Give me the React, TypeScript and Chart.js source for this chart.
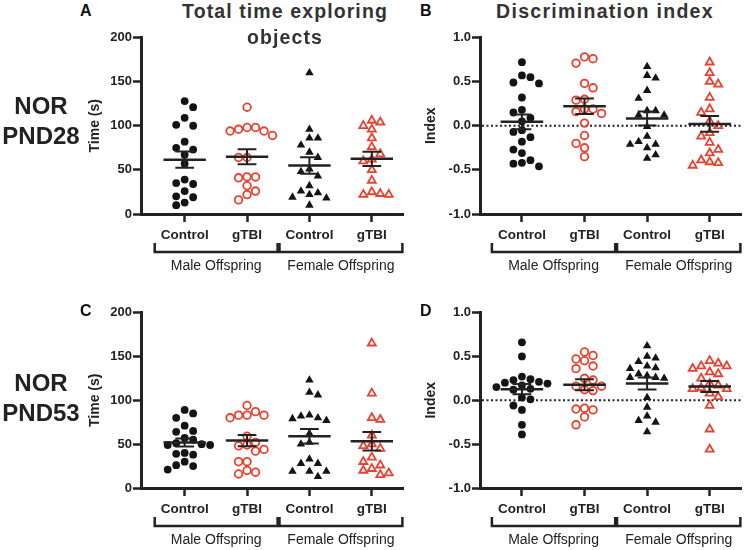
import React, { useEffect, useRef } from "react";
import { Chart, registerables } from "chart.js";
Chart.register(...registerables);

const FONT = "'Liberation Sans', Arial, Helvetica, sans-serif";
const BLACK = "#141414";
const RED = "#E8412F";
const AXIS = "#222222";

// ---- labels / ticks ----
const groupLabels = ["Control", "gTBI", "Control", "gTBI"];
const sexLabels = ["Male Offspring", "Female Offspring"];
const timeTicks = [0, 50, 100, 150, 200];
const indexTicks = [-1, -0.5, 0, 0.5, 1];

// ---- A: NOR PND28, total time exploring objects (s) ----
const timeP28MaleControl = [128, 121, 109, 100, 101, 82, 75, 73, 67, 57, 39, 34, 35, 26, 20, 19, 10, 13];
const timeP28MaleGtbi = [121, 98, 94, 94, 96, 98, 89, 64, 64, 42, 42, 41, 32, 26, 22, 16];
const timeP28FemaleControl = [160, 96, 86, 86, 78, 70, 64, 43, 48, 51, 26, 24, 32, 19, 22, 18, 10];
const timeP28FemaleGtbi = [106, 104, 100, 96, 86, 76, 68, 62, 60, 50, 38, 25, 23, 22, 22];

// ---- B: NOR PND28, discrimination index ----
const indexP28MaleControl = [0.72, 0.57, 0.55, 0.48, 0.49, 0.32, 0.15, 0.18, 0.09, 0.05, -0.07, -0.05, -0.18, -0.13, -0.31, -0.27, -0.39, -0.46, -0.42, -0.43];
const indexP28MaleGtbi = [0.78, 0.76, 0.71, 0.48, 0.43, 0.29, 0.3, 0.19, 0.19, 0.16, 0.14, 0.03, -0.11, -0.2, -0.25, -0.35];
const indexP28FemaleControl = [0.67, 0.54, 0.57, 0.4, 0.31, 0.17, 0.12, 0.12, 0.17, -0.01, -0.12, -0.21, -0.25, -0.21, -0.18, -0.37, -0.33];
const indexP28FemaleGtbi = [0.72, 0.6, 0.47, 0.5, 0.32, 0.15, 0.19, 0.0, 0.05, -0.08, -0.12, -0.19, -0.27, -0.31, -0.39, -0.42, -0.41, -0.45];

// ---- C: NOR PND53, total time exploring objects (s) ----
const timeP53MaleControl = [89, 85, 80, 71, 65, 64, 57, 55, 51, 50, 49, 49, 40, 39, 38, 30, 26, 25, 21];
const timeP53MaleGtbi = [94, 87, 83, 83, 83, 80, 59, 52, 49, 48, 44, 42, 30, 30, 20, 18, 16];
const timeP53FemaleControl = [123, 109, 106, 77, 80, 83, 79, 82, 62, 52, 50, 28, 28, 33, 19, 19, 19, 13];
const timeP53FemaleGtbi = [165, 108, 80, 78, 60, 50, 48, 45, 35, 30, 26, 22, 20, 17, 15];

// ---- D: NOR PND53, discrimination index ----
const indexP53MaleControl = [0.66, 0.5, 0.27, 0.24, 0.23, 0.21, 0.2, 0.19, 0.17, 0.15, 0.13, 0.12, 0.03, 0.01, -0.06, -0.11, -0.28, -0.39];
const indexP53MaleGtbi = [0.55, 0.51, 0.45, 0.47, 0.36, 0.39, 0.25, 0.23, 0.16, 0.16, 0.11, 0.12, -0.1, -0.09, -0.11, -0.19, -0.28];
const indexP53FemaleControl = [0.62, 0.5, 0.48, 0.44, 0.39, 0.37, 0.36, 0.3, 0.28, 0.26, 0.26, 0.25, 0.03, -0.08, -0.18, -0.25, -0.23, -0.36];
const indexP53FemaleGtbi = [0.45, 0.42, 0.39, 0.39, 0.36, 0.32, 0.3, 0.25, 0.19, 0.17, 0.14, 0.13, 0.13, 0.08, 0.04, -0.06, -0.33, -0.56];

Chart.defaults.font.family = FONT;

const PLOT_H = 177; // plot height in px (for swarm spacing)
const X_UNIT_PX = 62.5; // px per category step

// simple column beeswarm derived from the values
function swarm(values: number[], center: number, pxPerY: number) {
  const step = 8.5;
  const minDy = 8.5;
  const order = values.map((_, i) => i).sort((a, b) => values[b] - values[a]);
  const placed: { col: number; py: number }[] = [];
  const out: { x: number; y: number }[] = new Array(values.length);
  let flip = 1;
  for (const i of order) {
    const py = values[i] * pxPerY;
    let chosen = 0;
    for (let k = 0; k < 40; k++) {
      const mag = Math.ceil(k / 2);
      const col = k === 0 ? 0 : (k % 2 === 1 ? flip : -flip) * mag;
      const clash = placed.some((p) => p.col === col && Math.abs(p.py - py) < minDy);
      if (!clash) {
        chosen = col;
        break;
      }
    }
    if (chosen !== 0) flip = chosen > 0 ? -1 : 1;
    placed.push({ col: chosen, py });
    out[i] = { x: center + (chosen * step) / X_UNIT_PX, y: values[i] };
  }
  return out;
}

const markerStyles = [
  { pointStyle: "circle", backgroundColor: BLACK, borderColor: BLACK, borderWidth: 0, pointRadius: 3.9 },
  { pointStyle: "circle", backgroundColor: "rgba(255,255,255,0)", borderColor: RED, borderWidth: 1.8, pointRadius: 3.8 },
  { pointStyle: "triangle", backgroundColor: BLACK, borderColor: BLACK, borderWidth: 0, pointRadius: 4.9 },
  { pointStyle: "triangle", backgroundColor: "rgba(255,255,255,0)", borderColor: RED, borderWidth: 1.8, pointRadius: 4.6 },
];

type PanelSpec = {
  left: number;
  top: number;
  width: number;
  height: number;
  yWidth: number;
  padTop: number;
  padRight: number;
  xHeight: number;
  xMin: number;
  xMax: number;
  yMin: number;
  yMax: number;
  yTicks: number[];
  yTitle: string;
  isIndex: boolean;
  series: number[][];
};

function decor(spec: PanelSpec) {
  return {
    id: "decor",
    beforeDatasetsDraw(chart: any) {
      if (!spec.isIndex) return;
      const { ctx, chartArea } = chart;
      const y = chart.scales.y.getPixelForValue(0);
      ctx.save();
      ctx.strokeStyle = AXIS;
      ctx.lineWidth = 2;
      ctx.setLineDash([2, 2.5]);
      ctx.beginPath();
      ctx.moveTo(chartArea.left + 2, y);
      ctx.lineTo(chartArea.right, y);
      ctx.stroke();
      ctx.restore();
    },
    afterDatasetsDraw(chart: any) {
      const { ctx } = chart;
      const xs = chart.scales.x;
      const ys = chart.scales.y;
      ctx.save();
      ctx.strokeStyle = AXIS;
      ctx.lineCap = "butt";
      spec.series.forEach((vals, i) => {
        const c = i + 1;
        const n = vals.length;
        const mean = vals.reduce((a, b) => a + b, 0) / n;
        const sd = Math.sqrt(vals.reduce((a, b) => a + (b - mean) * (b - mean), 0) / (n - 1));
        const sem = sd / Math.sqrt(n);
        const ym = ys.getPixelForValue(mean);
        const yt = ys.getPixelForValue(mean + sem);
        const yb = ys.getPixelForValue(mean - sem);
        ctx.lineWidth = 2.5;
        ctx.beginPath();
        ctx.moveTo(xs.getPixelForValue(c - 0.34), ym);
        ctx.lineTo(xs.getPixelForValue(c + 0.34), ym);
        ctx.stroke();
        ctx.lineWidth = 2;
        ctx.beginPath();
        ctx.moveTo(xs.getPixelForValue(c - 0.15), yt);
        ctx.lineTo(xs.getPixelForValue(c + 0.15), yt);
        ctx.moveTo(xs.getPixelForValue(c - 0.15), yb);
        ctx.lineTo(xs.getPixelForValue(c + 0.15), yb);
        ctx.moveTo(xs.getPixelForValue(c), yt);
        ctx.lineTo(xs.getPixelForValue(c), yb);
        ctx.stroke();
      });
      ctx.restore();
    },
    afterDraw(chart: any) {
      const { ctx, chartArea } = chart;
      const xs = chart.scales.x;
      const b = chartArea.bottom;
      ctx.save();
      ctx.strokeStyle = AXIS;
      ctx.lineWidth = 2.5;
      ctx.lineJoin = "miter";
      ctx.fillStyle = AXIS;
      ctx.font = `14px ${FONT}`;
      ctx.textAlign = "center";
      ctx.textBaseline = "alphabetic";
      sexLabels.forEach((lab, s) => {
        const x1 = xs.getPixelForValue(2 * s + 0.52);
        const x2 = xs.getPixelForValue(2 * s + 2.49);
        ctx.beginPath();
        ctx.moveTo(x1, b + 29);
        ctx.lineTo(x1, b + 38);
        ctx.lineTo(x2, b + 38);
        ctx.lineTo(x2, b + 29);
        ctx.stroke();
        ctx.fillText(lab, (x1 + x2) / 2, b + 56);
      });
      ctx.restore();
    },
  };
}

function Panel({ spec }: { spec: PanelSpec }) {
  const ref = useRef<HTMLCanvasElement>(null);
  useEffect(() => {
    const pxPerY = PLOT_H / (spec.yMax - spec.yMin);
    const datasets = spec.series.map((vals, i) => ({
      label: groupLabels[i],
      data: swarm(vals, i + 1, pxPerY),
      showLine: false,
      ...markerStyles[i],
    }));
    const chart = new Chart(ref.current as HTMLCanvasElement, {
      type: "scatter",
      data: { datasets: datasets as any },
      options: {
        animation: false,
        responsive: false,
        devicePixelRatio: 1,
        layout: { padding: { top: spec.padTop, right: spec.padRight, left: 0, bottom: 0 } },
        plugins: { legend: { display: false }, tooltip: { enabled: false } },
        scales: {
          x: {
            type: "linear",
            min: spec.xMin,
            max: spec.xMax,
            afterBuildTicks: (scale: any) => {
              scale.ticks = groupLabels.map((_, i) => ({ value: i + 1 }));
            },
            afterFit: (scale: any) => {
              scale.height = spec.xHeight;
            },
            ticks: {
              autoSkip: false,
              maxRotation: 0,
              padding: 5,
              color: AXIS,
              font: { size: 13.5, weight: "bold", lineHeight: 1.2 },
              callback: (v: any) => groupLabels[Math.round(Number(v)) - 1] ?? "",
            },
            grid: { display: true, drawOnChartArea: false, drawTicks: true, tickLength: 8, tickColor: AXIS, tickWidth: 2.5 },
            border: { display: true, color: AXIS, width: 3 },
          },
          y: {
            type: "linear",
            min: spec.yMin,
            max: spec.yMax,
            afterBuildTicks: (scale: any) => {
              scale.ticks = spec.yTicks.map((v) => ({ value: v }));
            },
            afterFit: (scale: any) => {
              scale.width = spec.yWidth;
            },
            ticks: {
              padding: 1,
              color: AXIS,
              font: { size: 13, weight: "bold", lineHeight: 1 },
              callback: (v: any) => (spec.isIndex ? Number(v).toFixed(1) : String(v)),
            },
            title: {
              display: true,
              text: spec.yTitle,
              color: AXIS,
              font: { size: 14, weight: "bold", lineHeight: 1.2 },
              padding: { top: 4, bottom: 4 },
            },
            grid: { display: true, drawOnChartArea: false, drawTicks: true, tickLength: 8, tickColor: AXIS, tickWidth: 2.5 },
            border: { display: true, color: AXIS, width: 3 },
          },
        },
      },
      plugins: [decor(spec) as any],
    });
    return () => chart.destroy();
  }, []);
  return (
    <canvas
      ref={ref}
      width={spec.width}
      height={spec.height}
      style={{ position: "absolute", left: spec.left, top: spec.top, width: spec.width, height: spec.height }}
    />
  );
}

const panels: PanelSpec[] = [
  {
    left: 83, top: 30, width: 331, height: 262, yWidth: 58, padTop: 7, padRight: 11, xHeight: 78,
    xMin: 0.3, xMax: 4.5, yMin: 0, yMax: 200, yTicks: timeTicks, yTitle: "Time (s)", isIndex: false,
    series: [timeP28MaleControl, timeP28MaleGtbi, timeP28FemaleControl, timeP28FemaleGtbi],
  },
  {
    left: 419, top: 30, width: 335, height: 262, yWidth: 61, padTop: 7, padRight: 13, xHeight: 78,
    xMin: 0.33, xMax: 4.5, yMin: -1, yMax: 1, yTicks: indexTicks, yTitle: "Index", isIndex: true,
    series: [indexP28MaleControl, indexP28MaleGtbi, indexP28FemaleControl, indexP28FemaleGtbi],
  },
  {
    left: 83, top: 305, width: 331, height: 245, yWidth: 58, padTop: 7, padRight: 11, xHeight: 62,
    xMin: 0.3, xMax: 4.5, yMin: 0, yMax: 200, yTicks: timeTicks, yTitle: "Time (s)", isIndex: false,
    series: [timeP53MaleControl, timeP53MaleGtbi, timeP53FemaleControl, timeP53FemaleGtbi],
  },
  {
    left: 419, top: 305, width: 335, height: 245, yWidth: 61, padTop: 7, padRight: 13, xHeight: 62,
    xMin: 0.33, xMax: 4.5, yMin: -1, yMax: 1, yTicks: indexTicks, yTitle: "Index", isIndex: true,
    series: [indexP53MaleControl, indexP53MaleGtbi, indexP53FemaleControl, indexP53FemaleGtbi],
  },
];

function Label({ text, cx, left, top, size, color = "#222", spacing = 0 }: any) {
  const style: any = {
    position: "absolute",
    top,
    fontFamily: FONT,
    fontWeight: "bold",
    fontSize: size,
    lineHeight: 1,
    color,
    whiteSpace: "nowrap",
    letterSpacing: spacing,
  };
  if (cx !== undefined) {
    style.left = cx - 200;
    style.width = 400;
    style.textAlign = "center";
  } else {
    style.left = left;
  }
  return <div style={style}>{text}</div>;
}

export default function App() {
  return (
    <div style={{ position: "fixed", left: 0, top: 0, width: 754, height: 550, background: "#fff", overflow: "hidden" }}>
      {panels.map((p, i) => (
        <Panel key={i} spec={p} />
      ))}
      <Label text="A" left={80} top={3} size={16} color="#111" />
      <Label text="B" left={420} top={3} size={16} color="#111" />
      <Label text="C" left={80} top={303} size={16} color="#111" />
      <Label text="D" left={420} top={303} size={16} color="#111" />
      <Label text="Total time exploring" cx={285} top={1.5} size={19.5} spacing={1.1} color="#333" />
      <Label text="objects" cx={285} top={28} size={19.5} spacing={1.1} color="#333" />
      <Label text="Discrimination index" cx={605} top={1.5} size={19.5} spacing={1.3} color="#333" />
      <Label text="NOR" cx={41} top={94} size={24} color="#222" />
      <Label text="PND28" cx={41} top={124} size={24} color="#222" />
      <Label text="NOR" cx={41} top={371} size={24} color="#222" />
      <Label text="PND53" cx={41} top={401} size={24} color="#222" />
    </div>
  );
}
